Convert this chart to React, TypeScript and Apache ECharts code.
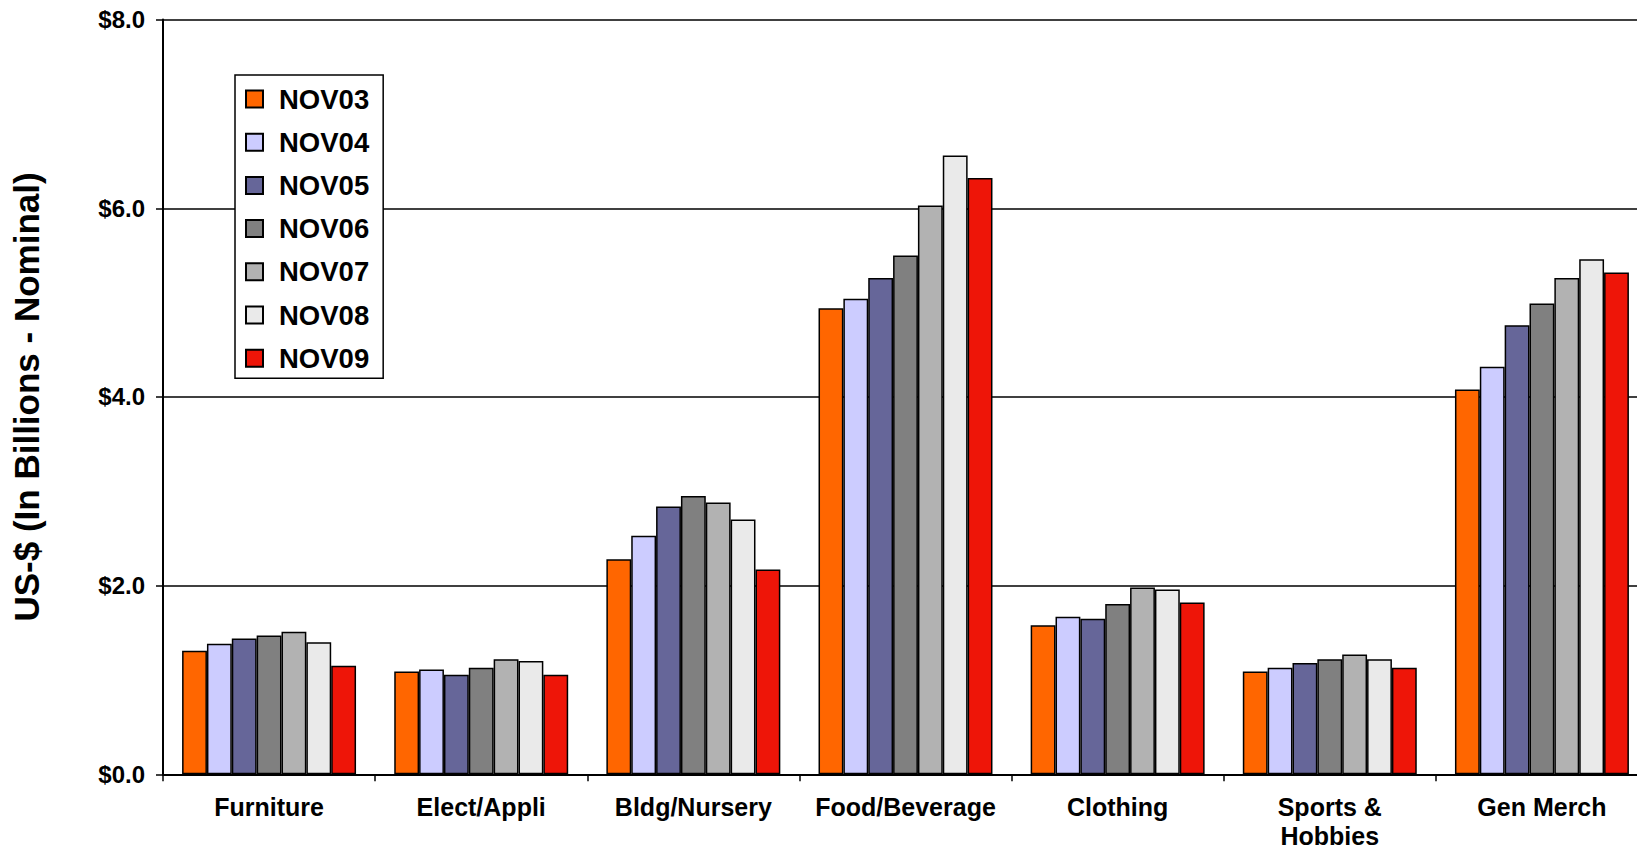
import React, { useEffect, useRef } from "react";
import * as echarts from "echarts";

const categories = [
  "Furniture",
  "Elect/Appli",
  "Bldg/Nursery",
  "Food/Beverage",
  "Clothing",
  "Sports &\nHobbies",
  "Gen Merch",
];

const seriesNames = ["NOV03", "NOV04", "NOV05", "NOV06", "NOV07", "NOV08", "NOV09"];
const seriesColors = ["#FF6600", "#CCCCFF", "#666699", "#808080", "#B2B2B2", "#EAEAEA", "#EE1508"];

const nov03 = [1.31, 1.09, 2.28, 4.94, 1.58, 1.09, 4.08];
const nov04 = [1.385, 1.11, 2.53, 5.04, 1.67, 1.13, 4.32];
const nov05 = [1.44, 1.055, 2.84, 5.26, 1.65, 1.18, 4.76];
const nov06 = [1.47, 1.13, 2.95, 5.5, 1.805, 1.22, 4.99];
const nov07 = [1.51, 1.22, 2.88, 6.03, 1.98, 1.27, 5.26];
const nov08 = [1.4, 1.2, 2.7, 6.56, 1.96, 1.22, 5.46];
const nov09 = [1.15, 1.055, 2.17, 6.32, 1.82, 1.13, 5.32];

const seriesValues = [nov03, nov04, nov05, nov06, nov07, nov08, nov09];

const yTickValues = [0, 2, 4, 6, 8];

const FONT = '"Liberation Sans", Arial, Helvetica, sans-serif';

export default function App() {
  const ref = useRef<HTMLDivElement>(null);

  useEffect(() => {
    if (!ref.current) return;
    const chart = echarts.init(ref.current, undefined, { renderer: "svg" });
    chart.setOption({
      animation: false,
      backgroundColor: "#ffffff",
      textStyle: { fontFamily: FONT },
      grid: {
        left: 163,
        right: 32,
        top: 19.6,
        bottom: 73.7,
        containLabel: false,
        outerBoundsMode: "none",
      },
      legend: {
        orient: "vertical",
        left: 235,
        top: 75,
        data: seriesNames,
        backgroundColor: "#ffffff",
        borderColor: "#000000",
        borderWidth: 1.5,
        padding: [10, 14, 6, 10],
        itemGap: 15.2,
        itemWidth: 17,
        itemHeight: 17,
        icon: "rect",
        textStyle: {
          fontFamily: FONT,
          fontWeight: "bold",
          fontSize: 27.5,
          lineHeight: 26,
          color: "#000000",
          padding: [0, 0, 0, 11],
        },
      },
      xAxis: {
        type: "category",
        data: categories,
        boundaryGap: true,
        axisLine: { show: true, lineStyle: { color: "#000000", width: 2 } },
        axisTick: { show: true, length: 7, lineStyle: { color: "#000000", width: 1.5 } },
        axisLabel: {
          interval: 0,
          margin: 18,
          fontFamily: FONT,
          fontWeight: "bold",
          fontSize: 25,
          lineHeight: 29,
          color: "#000000",
        },
        splitLine: { show: false },
      },
      yAxis: {
        type: "value",
        min: yTickValues[0],
        max: yTickValues[yTickValues.length - 1],
        interval: 2,
        name: "US-$ (In Billions - Nominal)",
        nameLocation: "middle",
        nameGap: 119,
        nameRotate: 90,
        nameTextStyle: {
          fontFamily: FONT,
          fontWeight: "bold",
          fontSize: 35,
          color: "#000000",
        },
        axisLine: { show: true, lineStyle: { color: "#000000", width: 2 } },
        axisTick: { show: true, length: 7, lineStyle: { color: "#000000", width: 1.5 } },
        axisLabel: {
          margin: 18,
          fontFamily: FONT,
          fontWeight: "bold",
          fontSize: 24,
          color: "#000000",
          formatter: (v: number) => "$" + v.toFixed(1),
        },
        splitLine: { show: true, lineStyle: { color: "#000000", width: 1.5 } },
      },
      series: seriesNames.map((name, i) => ({
        name,
        type: "bar",
        data: seriesValues[i],
        barGap: "0%",
        barCategoryGap: "18%",
        itemStyle: {
          color: seriesColors[i],
          borderColor: "#000000",
          borderWidth: 1.5,
        },
      })),
    });
    return () => chart.dispose();
  }, []);

  return (
    <div
      style={{
        position: "fixed",
        left: 0,
        top: 0,
        width: 1637,
        height: 848,
        overflow: "hidden",
        background: "#ffffff",
      }}
    >
      <div ref={ref} style={{ width: 1680, height: 848 }} />
    </div>
  );
}
